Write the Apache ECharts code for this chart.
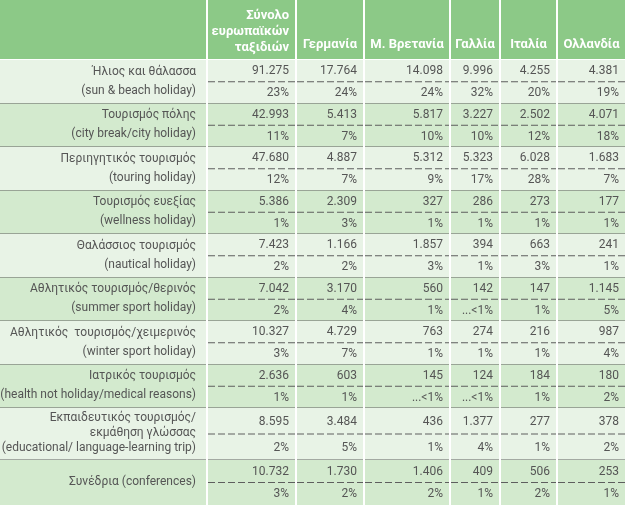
<!DOCTYPE html>
<html><head><meta charset="utf-8">
<script src="https://cdn.jsdelivr.net/npm/echarts@6/dist/echarts.min.js"></script>
<style>html,body{margin:0;padding:0;background:#fff}#c{width:625px;height:505px}</style>
</head><body><div id="c"></div>
<script>
// ---- data ----
const columns = ['Σύνολο\nευρωπαϊκών\nταξιδιών', 'Γερμανία', 'Μ. Βρετανία', 'Γαλλία', 'Ιταλία', 'Ολλανδία'];
const rowLabelsGr = ['Ήλιος και θάλασσα', 'Τουρισμός πόλης', 'Περιηγητικός τουρισμός', 'Τουρισμός ευεξίας',
  'Θαλάσσιος τουρισμός', 'Αθλητικός τουρισμός/θερινός', 'Αθλητικός  τουρισμός/χειμερινός', 'Ιατρικός τουρισμός',
  'Εκπαιδευτικός τουρισμός/\nεκμάθηση γλώσσας', 'Συνέδρια (conferences)'];
const rowLabelsEn = ['(sun & beach holiday)', '(city break/city holiday)', '(touring holiday)', '(wellness holiday)',
  '(nautical holiday)', '(summer sport holiday)', '(winter sport holiday)', '(health not holiday/medical reasons)',
  '(educational/ language-learning trip)', ''];
const totalTrips   = [91275, 42993, 47680, 5386, 7423, 7042, 10327, 2636, 8595, 10732];
const totalPct     = [23, 11, 12, 1, 2, 2, 3, 1, 2, 3];
const germany      = [17764, 5413, 4887, 2309, 1166, 3170, 4729, 603, 3484, 1730];
const germanyPct   = [24, 7, 7, 3, 2, 4, 7, 1, 5, 2];
const uk           = [14098, 5817, 5312, 327, 1857, 560, 763, 145, 436, 1406];
const ukPct        = [24, 10, 9, 1, 3, 1, 1, null, 1, 2];   // null = "...<1%"
const france       = [9996, 3227, 5323, 286, 394, 142, 274, 124, 1377, 409];
const francePct    = [32, 10, 17, 1, 1, null, 1, null, 4, 1];
const italy        = [4255, 2502, 6028, 273, 663, 147, 216, 184, 277, 506];
const italyPct     = [20, 12, 28, 1, 3, 1, 1, 1, 1, 2];
const netherlands    = [4381, 4071, 1683, 177, 241, 1145, 987, 180, 378, 253];
const netherlandsPct = [19, 18, 7, 1, 1, 5, 4, 2, 2, 1];

const valueCols = [totalTrips, germany, uk, france, italy, netherlands];
const pctCols = [totalPct, germanyPct, ukPct, francePct, italyPct, netherlandsPct];

// ---- layout (not data) ----
const colEdges = [0, 207, 296, 364, 450, 500, 557, 625];
const rowEdges = [0, 60, 103.5, 147, 190.5, 234, 277.5, 321, 364.5, 408, 460, 505];
const HEADER = '#8cc987', LIGHT = '#e8f3e6', DARK = '#d3eace', TXT = '#555555', RULE = '#5e5e5e';
const FONT = 'Roboto, "Noto Sans", sans-serif';

function fmt(n) {
  if (n >= 1000) { const r = n % 1000; return Math.floor(n / 1000) + '.' + String(r).padStart(3, '0'); }
  return String(n);
}
function fmtPct(p) { return p == null ? '...<1%' : p + '%'; }

const items = [];
for (let r = 0; r <= rowLabelsGr.length; r++) {
  for (let c = 0; c <= columns.length; c++) items.push([c, r]);
}

function renderItem(params, api) {
  const c = api.value(0), r = api.value(1);
  const p0 = api.coord([colEdges[c], rowEdges[r]]);
  const p1 = api.coord([colEdges[c + 1], rowEdges[r + 1]]);
  const x0 = p0[0] + (c > 0 ? 1 : 0), x1 = p1[0] - (c < columns.length ? 1 : 0);
  const y0 = p0[1], y1 = p1[1];
  const children = [];
  if (r === 0) {
    children.push({ type: 'rect', shape: { x: x0, y: y0, width: x1 - x0, height: y1 - y0 - 1 }, style: { fill: HEADER } });
    if (c === 1) {
      children.push({ type: 'text', style: { x: x1 - 6, y: y0 + 32, text: columns[0], align: 'right', verticalAlign: 'middle',
        fill: '#fff', font: 'bold 13px ' + FONT, lineHeight: 16 } });
    } else if (c > 1) {
      children.push({ type: 'text', style: { x: (x0 + x1) / 2, y: y0 + 45, text: columns[c - 1], align: 'center', verticalAlign: 'middle',
        fill: '#fff', font: 'bold 13px ' + FONT } });
    }
    return { type: 'group', children };
  }
  const ri = r - 1;
  const fill = ri % 2 === 0 ? LIGHT : DARK;
  const last = ri === rowLabelsGr.length - 1;
  children.push({ type: 'rect', shape: { x: x0, y: y0, width: x1 - x0, height: y1 - y0 }, style: { fill } });
  if (!last) children.push({ type: 'line', shape: { x1: x0, y1: y1, x2: x1, y2: y1 }, style: { stroke: RULE, lineWidth: 1 } });
  const mid = (y0 + y1) / 2;
  if (c === 0) {
    const txt = rowLabelsEn[ri] ? rowLabelsGr[ri] + '\n' + rowLabelsEn[ri] : rowLabelsGr[ri];
    const multi = txt.split('\n').length;
    children.push({ type: 'text', style: { x: x1 - 10, y: mid - (multi > 2 ? 1 : 0.5), text: txt, align: 'right', verticalAlign: 'middle',
      fill: TXT, font: '12px ' + FONT, lineHeight: multi > 2 ? 15 : 19 } });
  } else {
    const v = valueCols[c - 1][ri], p = pctCols[c - 1][ri];
    children.push({ type: 'line', shape: { x1: x0, y1: mid, x2: x1, y2: mid }, style: { stroke: RULE, lineWidth: 1, lineDash: [7, 3] } });
    children.push({ type: 'text', style: { x: x1 - 6, y: (y0 + mid) / 2 + 0.5, text: fmt(v), align: 'right', verticalAlign: 'middle',
      fill: TXT, font: '12px ' + FONT } });
    children.push({ type: 'text', style: { x: x1 - 6, y: (mid + y1) / 2 + 0.5, text: fmtPct(p), align: 'right', verticalAlign: 'middle',
      fill: TXT, font: '12px ' + FONT } });
  }
  return { type: 'group', children };
}

const chart = echarts.init(document.getElementById('c'), null, { renderer: 'canvas' });
chart.setOption({
  animation: false,
  backgroundColor: '#ffffff',
  grid: { left: 0, right: 0, top: 0, bottom: 0 },
  xAxis: { type: 'value', min: 0, max: 625, show: false },
  yAxis: { type: 'value', min: 0, max: 505, inverse: true, show: false },
  series: [{ type: 'custom', renderItem, data: items, clip: false, encode: { x: 0, y: 1 } }]
});
</script></body></html>
